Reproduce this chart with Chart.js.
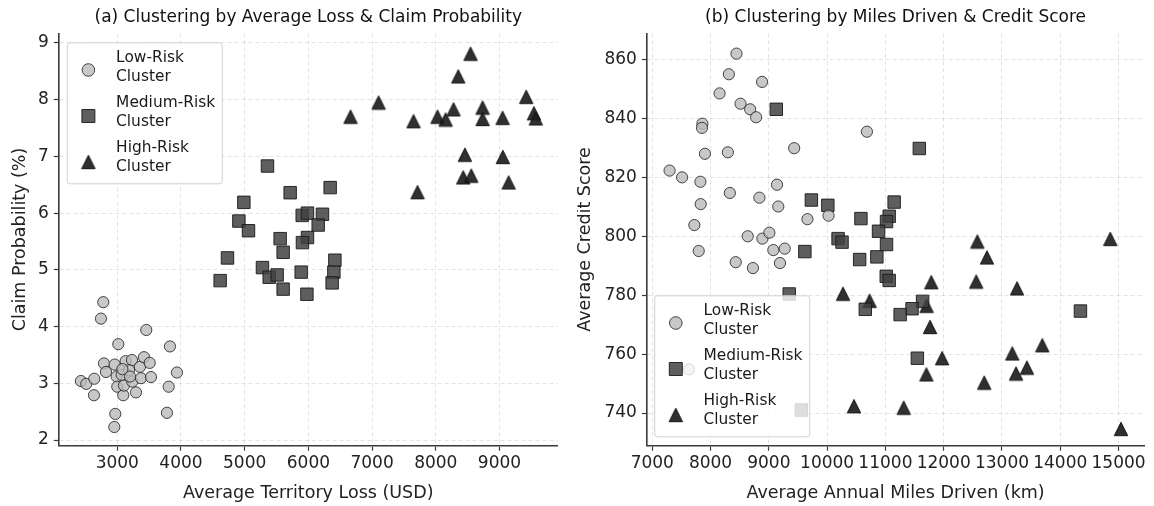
<!DOCTYPE html>
<html><head><meta charset="utf-8">
<script src="https://cdn.jsdelivr.net/npm/chart.js@4.4.0/dist/chart.umd.min.js"></script>
<style>
html,body{margin:0;padding:0;background:#fff;}
#wrap{position:relative;width:1154px;height:506px;overflow:hidden;}
.c{position:absolute;top:0;width:577px;height:506px;}
</style></head><body>
<div id="wrap">
<div class="c" style="left:0"><canvas id="a" width="577" height="506"></canvas></div>
<div class="c" style="left:577px"><canvas id="b" width="577" height="506"></canvas></div>
</div>
<script>
// ---------- Panel (a): Average Territory Loss (USD) vs Claim Probability (%) ----------
const lowLossA  = [2780,2744,3455,3016,3827,3937,3807,3780,2969,2953,2430,2513,2639,2634,2791,2823,2959,2990,3000,3094,3105,3069,3131,3231,3184,3236,3294,3372,3356,3419,3509,3529,3200,3080];
const lowProbA  = [4.43,4.14,3.94,3.69,3.65,3.19,2.94,2.48,2.46,2.23,3.04,2.99,3.08,2.79,3.35,3.20,3.33,3.12,2.94,2.79,2.96,3.15,3.39,3.41,3.23,3.03,2.84,3.09,3.29,3.46,3.36,3.11,3.12,3.25];
const medLossA  = [5358,5714,6342,4987,4909,5060,5903,5986,6221,6154,5557,5604,5986,5907,4730,4615,5279,5385,5510,5604,5887,5977,6416,6400,6373];
const medProbA  = [6.83,6.36,6.45,6.19,5.86,5.69,5.96,6.00,5.98,5.79,5.55,5.31,5.57,5.48,5.21,4.81,5.04,4.87,4.91,4.66,4.96,4.57,5.17,4.96,4.77];
const highLossA = [8546,8353,7102,6662,7651,8028,8154,8279,8735,8735,9049,8457,9053,8431,8557,7714,9144,9420,9540,9570];
const highProbA = [8.81,8.41,7.95,7.70,7.62,7.70,7.65,7.83,7.86,7.66,7.68,7.03,6.99,6.63,6.66,6.37,6.54,8.05,7.76,7.67];
const xTicksA = [3000,4000,5000,6000,7000,8000,9000];
const yTicksA = [2,3,4,5,6,7,8,9];

// ---------- Panel (b): Average Annual Miles Driven (km) vs Average Credit Score ----------
const lowMilesB  = [8445,8314,8884,8155,8514,8679,8782,7860,7853,7904,8297,9435,7297,7512,7826,9140,8331,8838,7831,9162,9662,10683,10024,7722,8638,8889,9009,9077,9273,7797,8432,8727,9191,7629];
const lowCreditB = [862.0,855.0,852.4,848.5,845.0,843.1,840.4,838.2,836.8,828.0,828.5,829.9,822.3,820.0,818.5,817.5,814.7,813.1,810.9,810.1,805.8,835.5,807.0,803.8,800.0,799.2,801.2,795.3,795.8,795.0,791.2,789.2,790.9,754.8];
const medMilesB  = [9128,11582,9730,10012,11150,11065,11019,10580,10882,10188,10256,11019,9618,10558,10853,11014,11065,9350,11638,11457,10655,11253,11548,14346,9558];
const medCreditB = [843.1,829.8,812.3,810.5,811.6,806.8,805.0,806.0,801.7,799.2,798.0,797.2,794.8,792.1,793.0,786.4,785.0,780.4,777.9,775.4,775.2,773.4,758.6,774.6,741.0];
const highMilesB  = [12577,14858,12742,11787,12558,13258,10273,10729,11707,11766,11973,11703,13177,13241,13428,13691,12695,10461,11314,15041];
const highCreditB = [798.2,799.1,792.8,784.4,784.6,782.3,780.5,778.1,776.4,769.2,758.6,753.1,760.2,753.4,755.4,763.0,750.3,742.3,741.8,734.6];
const xTicksB = [7000,8000,9000,10000,11000,12000,13000,14000,15000];
const yTicksB = [740,760,780,800,820,840,860];

const clusterNames = [['Low-Risk','Cluster'],['Medium-Risk','Cluster'],['High-Risk','Cluster']];

const FONT = "'DejaVu Sans', 'Liberation Sans', sans-serif";

// matplotlib-like '^' marker (bbox centred on the point)
function makeTriangle() {
  const c = document.createElement('canvas');
  c.width = 16; c.height = 16;
  const g = c.getContext('2d');
  g.beginPath();
  g.moveTo(8, 1.3); g.lineTo(14.7, 14.7); g.lineTo(1.3, 14.7); g.closePath();
  g.fillStyle = 'rgba(30,30,30,0.92)'; g.fill();
  g.lineWidth = 1; g.strokeStyle = 'rgba(15,15,15,0.95)'; g.stroke();
  return c;
}
const triImg = makeTriangle();

const styles = [
  {pointStyle:'circle', radius:5.6, bg:'rgba(186,186,186,0.8)', border:'rgba(40,40,40,0.85)'},
  {pointStyle:'rect', radius:8.8, bg:'rgba(66,66,66,0.85)', border:'rgba(25,25,25,0.9)'},
  {pointStyle:triImg, radius:8, bg:'rgba(30,30,30,0.92)', border:'rgba(15,15,15,0.95)'}
];

function pts(xs, ys) { return xs.map((x, i) => ({x: x, y: ys[i]})); }

function makeDatasets(groups) {
  return groups.map((g, i) => ({
    label: clusterNames[i].join(' '),
    data: pts(g[0], g[1]),
    pointStyle: styles[i].pointStyle,
    pointRadius: styles[i].radius,
    pointHoverRadius: styles[i].radius,
    backgroundColor: styles[i].bg,
    borderColor: styles[i].border,
    borderWidth: 1,
    showLine: false
  }));
}

const legendPlugin = {
  id: 'clusterLegend',
  afterDatasetsDraw(chart, args, opts) {
    const {ctx, chartArea} = chart;
    const w = 155, h = 141;
    const left = chartArea.left + opts.dx;
    const top = opts.anchor === 'top' ? chartArea.top + opts.dy : chartArea.bottom - opts.dy - h;
    ctx.save();
    ctx.beginPath();
    if (ctx.roundRect) ctx.roundRect(left + 0.5, top + 0.5, w, h, 3); else ctx.rect(left + 0.5, top + 0.5, w, h);
    ctx.fillStyle = 'rgba(255,255,255,0.8)';
    ctx.fill();
    ctx.lineWidth = 1;
    ctx.strokeStyle = '#d0d0d0';
    ctx.stroke();
    ctx.font = '15.4px ' + FONT;
    ctx.fillStyle = '#1a1a1a';
    ctx.textBaseline = 'middle';
    ctx.textAlign = 'left';
    for (let i = 0; i < 3; i++) {
      const my = top + 27.7 + i * 46;
      const mx = left + 21.6;
      const s = styles[i];
      ctx.save();
      if (s.pointStyle === 'circle') {
        ctx.beginPath(); ctx.arc(mx, my, 6.3, 0, Math.PI * 2);
        ctx.fillStyle = s.bg; ctx.fill(); ctx.lineWidth = 1; ctx.strokeStyle = s.border; ctx.stroke();
      } else if (s.pointStyle === 'rect') {
        ctx.beginPath(); ctx.rect(mx - 6.5, my - 6.5, 13, 13);
        ctx.fillStyle = s.bg; ctx.fill(); ctx.lineWidth = 1; ctx.strokeStyle = s.border; ctx.stroke();
      } else {
        ctx.drawImage(triImg, mx - 8, my - 8);
      }
      ctx.restore();
      const ly = top + 15.4 + i * 45.2;
      ctx.fillText(clusterNames[i][0], left + 49.3, ly);
      ctx.fillText(clusterNames[i][1], left + 49.3, ly + 19);
    }
    ctx.restore();
  }
};

function axis(cfg) {
  return {
    type: 'linear',
    position: cfg.position,
    min: cfg.min, max: cfg.max,
    afterBuildTicks: s => { s.ticks = cfg.ticks.map(v => ({value: v})); },
    afterFit: s => {
      if (cfg.position === 'left') { s.width = cfg.size; s.paddingTop = 0; s.paddingBottom = 0; }
      else { s.height = cfg.size; s.paddingLeft = 0; s.paddingRight = 0; }
    },
    border: {display: true, color: '#3a3a3a', width: 1.6, dash: [4, 3]},
    grid: {display: true, color: 'rgba(0,0,0,0.11)', lineWidth: 1, drawTicks: true, tickLength: 5, tickColor: '#3a3a3a', tickWidth: 1.2, tickBorderDash: []},
    ticks: {color: '#222', font: {family: FONT, size: 17}, padding: cfg.position === 'left' ? 5 : 3, callback: v => String(v), maxRotation: 0, autoSkip: false},
    title: {display: true, text: cfg.title, color: '#222', font: {family: FONT, size: 17.5}, padding: cfg.titlePad}
  };
}

function makeChart(id, title, groups, xc, yc, padRight, legendOpts) {
  return new Chart(document.getElementById(id), {
    type: 'scatter',
    data: {datasets: makeDatasets(groups)},
    options: {
      responsive: false,
      animation: false,
      events: [],
      layout: {padding: {left: 0, right: padRight, top: 0, bottom: 0}},
      plugins: {
        legend: {display: false},
        tooltip: {enabled: false},
        title: {display: true, text: title, fullSize: false, color: '#111', font: {family: FONT, size: 17, weight: 'normal'}, padding: {top: 7.5, bottom: 5.4}},
        clusterLegend: legendOpts
      },
      scales: {x: axis(xc), y: axis(yc)}
    },
    plugins: [legendPlugin]
  });
}

makeChart('a', '(a) Clustering by Average Loss & Claim Probability',
  [[lowLossA, lowProbA], [medLossA, medProbA], [highLossA, highProbA]],
  {position: 'bottom', min: 2082, max: 9914, ticks: xTicksA, size: 60.3, title: 'Average Territory Loss (USD)', titlePad: {top: 0, bottom: 2.5}},
  {position: 'left', min: 1.90, max: 9.17, ticks: yTicksA, size: 58.8, title: 'Claim Probability (%)', titlePad: {top: 9.8, bottom: 0}},
  19.3, {anchor: 'top', dx: 8, dy: 9});

makeChart('b', '(b) Clustering by Miles Driven & Credit Score',
  [[lowMilesB, lowCreditB], [medMilesB, medCreditB], [highMilesB, highCreditB]],
  {position: 'bottom', min: 6908, max: 15440, ticks: xTicksB, size: 60.3, title: 'Average Annual Miles Driven (km)', titlePad: {top: 0, bottom: 2.5}},
  {position: 'left', min: 728.9, max: 868.9, ticks: yTicksB, size: 69.9, title: 'Average Credit Score', titlePad: {top: -2.5, bottom: 0}},
  7.1, {anchor: 'bottom', dx: 7.3, dy: 9.4});
</script>
</body></html>
